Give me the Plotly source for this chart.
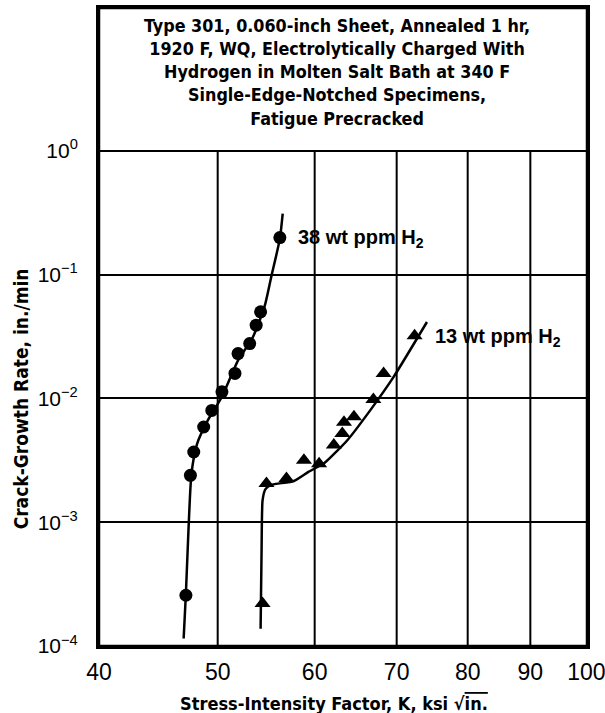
import numpy as np
import plotly.graph_objects as go

# ---- data ----
k38 = [47.1, 47.5, 47.8, 48.7, 49.45, 50.4, 51.65, 51.95, 53.1, 53.75, 54.2, 56.2]
r38 = [2.57e-4, 2.39e-3, 3.69e-3, 5.87e-3, 8.0e-3, 1.13e-2, 1.59e-2, 2.3e-2, 2.77e-2, 3.9e-2, 5.0e-2, 0.199]

k13 = [54.4, 54.8, 56.9, 58.8, 60.5, 62.2, 63.2, 63.4, 64.6, 67.0, 68.3, 72.4]
r13 = [2.2e-4, 2.05e-3, 2.25e-3, 3.16e-3, 2.97e-3, 4.2e-3, 5.2e-3, 6.4e-3, 7.1e-3, 9.8e-3, 1.59e-2, 3.2e-2]

# faired curves
k38_fit = [46.9, 47.1, 47.35, 47.6, 48.1, 49.1, 50.4, 51.95, 53.4, 54.6, 55.3, 56.2, 56.5]
r38_fit = [1.15e-4, 2.66e-4, 9.7e-4, 2.5e-3, 4.3e-3, 6.7e-3, 1.03e-2, 2.03e-2, 3.1e-2, 5.5e-2, 9.6e-2, 0.195, 0.31]

k13_fit = [54.2, 54.3, 54.4, 54.7, 55.3, 57.7, 59.3, 61.1, 63.8, 66.6, 69.6, 74.1]
r13_fit = [1.38e-4, 6.0e-4, 1.5e-3, 1.85e-3, 2.0e-3, 2.15e-3, 2.55e-3, 3.0e-3, 4.59e-3, 8.0e-3, 1.49e-2, 4.14e-2]

x_ticks = [40, 50, 60, 70, 80, 90, 100]
x_ticktext = ["40", "50", "60", "70", "80", "90", "100"]
y_ticks = [1e-4, 1e-3, 1e-2, 1e-1, 1e0]
y_ticktext = ["10<sup>−4</sup>", "10<sup>−3</sup>", "10<sup>−2</sup>", "10<sup>−1</sup>", "10<sup>0</sup>"]

box_lines = [
    "Type 301, 0.060-inch Sheet, Annealed 1 hr,",
    "1920 F, WQ, Electrolytically Charged With",
    "Hydrogen in Molten Salt Bath at 340 F",
    "Single-Edge-Notched Specimens,",
    "Fatigue Precracked",
]
label38 = "38 wt ppm H<sub>2</sub>"
label13 = "13 wt ppm H<sub>2</sub>"
label38_pos = (57.9, 0.196)
label13_pos = (74.9, 0.0311)

NARROW = "Liberation Sans Narrow, DejaVu Sans Condensed, Arial Narrow, sans-serif"
SANS = "Liberation Sans, Arial, Helvetica, sans-serif"

fig = go.Figure()

# vertical grid lines (stop at 10^0)
for xv in x_ticks[1:-1]:
    fig.add_trace(go.Scatter(x=[xv, xv], y=[y_ticks[0], y_ticks[-1]], mode="lines",
                             line=dict(color="black", width=2), hoverinfo="skip", showlegend=False))

fig.add_trace(go.Scatter(x=k38_fit, y=r38_fit, mode="lines",
                         line=dict(color="black", width=2.5, shape="spline", smoothing=0.6), showlegend=False))
fig.add_trace(go.Scatter(x=k13_fit, y=r13_fit, mode="lines",
                         line=dict(color="black", width=2.5, shape="spline", smoothing=0.5), showlegend=False))
fig.add_trace(go.Scatter(x=k38, y=r38, mode="markers", marker=dict(symbol="circle", size=13, color="black"),
                         showlegend=False))
fig.add_trace(go.Scatter(x=k13, y=r13, mode="markers", marker=dict(symbol="triangle-up", size=14, color="black"),
                         showlegend=False))

fig.add_annotation(x=np.log10(label38_pos[0]), y=np.log10(label38_pos[1]), text="<b>" + label38 + "</b>",
                   showarrow=False, xanchor="left", yanchor="middle", font=dict(family=SANS, size=20, color="black"))
fig.add_annotation(x=np.log10(label13_pos[0]), y=np.log10(label13_pos[1]), text="<b>" + label13 + "</b>",
                   showarrow=False, xanchor="left", yanchor="middle", font=dict(family=SANS, size=20, color="black"))

fig.add_annotation(x=0.487, y=0.899, xref="paper", yref="paper", text="<b>" + "<br>".join(box_lines) + "</b>",
                   showarrow=False, xanchor="center", yanchor="middle", align="center",
                   font=dict(family=NARROW, size=17.8, color="black"))

fig.add_annotation(x=-0.158, y=0.388, xref="paper", yref="paper", text="<b>Crack-Growth Rate, in./min</b>",
                   showarrow=False, textangle=-90, xanchor="center", yanchor="middle",
                   font=dict(family=NARROW, size=19, color="black"))
fig.add_annotation(x=0.481, y=-0.09, xref="paper", yref="paper",
                   text="<b>Stress-Intensity Factor, K, ksi √<span style='text-decoration:overline'>in.</span></b>",
                   showarrow=False, xanchor="center", yanchor="middle",
                   font=dict(family=NARROW, size=18, color="black"))

fig.add_shape(type="rect", xref="paper", yref="paper", x0=0, x1=1, y0=0, y1=1,
              line=dict(color="black", width=2.5))

fig.update_xaxes(type="log", range=[np.log10(40), 2.0005], tickvals=x_ticks, ticktext=x_ticktext,
                 showgrid=False, zeroline=False, showline=True, mirror=True, linecolor="black", linewidth=3,
                 ticks="", ticklabelstandoff=3, ticklabeloverflow="allow",
                 tickfont=dict(family=SANS, size=23, color="black"))
fig.update_yaxes(type="log", range=[-4, 1.153], tickvals=y_ticks, ticktext=y_ticktext,
                 showgrid=True, gridcolor="black", gridwidth=2, zeroline=False,
                 showline=True, mirror=True, linecolor="black", linewidth=3,
                 ticks="", ticklabelstandoff=14, tickfont=dict(family=SANS, size=21, color="black"))

fig.update_layout(width=605, height=713, margin=dict(l=99, r=18, t=8, b=67, autoexpand=False),
                  paper_bgcolor="white", plot_bgcolor="white", showlegend=False)

fig.write_html("out.html", config={"displayModeBar": False},
               post_script="document.body.style.margin='0';document.body.style.overflow='hidden';")
